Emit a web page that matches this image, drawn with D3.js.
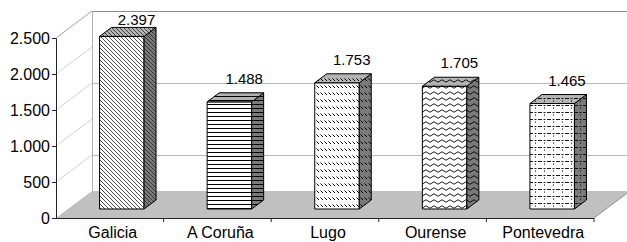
<!DOCTYPE html>
<html><head><meta charset="utf-8">
<script src="https://cdn.jsdelivr.net/npm/d3@7"></script>
<style>
html,body{margin:0;padding:0;background:#fff;}
svg{display:block;font-family:Arial,"Liberation Sans",sans-serif;}
</style></head>
<body>
<svg id="chart" width="627" height="242"></svg>
<script>
const categories = ["Galicia", "A Coruña", "Lugo", "Ourense", "Pontevedra"];
const values = [2397, 1488, 1753, 1705, 1465];
const yTicks = [0, 500, 1000, 1500, 2000, 2500];
const backGridValues = [500, 1500];
const patterns = ["diag", "horiz", "dash", "wave", "dots"];

const svg = d3.select("#chart");
const loc = d3.formatLocale({decimal: ",", thousands: ".", grouping: [3], currency: ["", ""]});
const fmt = loc.format(",d");

const x0 = 56, x1 = 594, yBase = 218, yTop = 38;
const DX = 36, DY = -27;          // depth of the plot box
const bdx = 12, bdy = -9;          // bar front offset & bar depth
const barW = 44.5;

const x = d3.scaleBand().domain(categories).range([x0, x1]).padding(0);
const y = d3.scaleLinear().domain([0, 2500]).range([yBase, yTop]);

// patterns
const defs = svg.append("defs");
function mkPattern(id, w, h, draw) {
  const p = defs.append("pattern").attr("id", id).attr("patternUnits", "userSpaceOnUse")
    .attr("width", w).attr("height", h);
  draw(p);
}
const ink = "#000";
mkPattern("diag", 4, 4, p => p.append("path")
  .attr("d", "M-1,-1L5,5M-1,3L1,5M3,-1L5,1").attr("stroke", "#222").attr("stroke-width", 0.8).attr("fill", "none"));
mkPattern("horiz", 4, 4, p => p.append("path")
  .attr("d", "M0,0.5H4").attr("stroke", ink).attr("stroke-width", 1).attr("fill", "none"));
mkPattern("dash", 4, 7, p => p.append("path")
  .attr("d", "M0.5,1.5L3,4").attr("stroke", ink).attr("stroke-width", 1).attr("fill", "none"));
mkPattern("wave", 8, 6, p => p.append("path")
  .attr("d", "M0,3Q2,0.5 4,3T8,3").attr("stroke", ink).attr("stroke-width", 0.9).attr("fill", "none"));
mkPattern("dots", 9, 7, p => {
  p.append("path").attr("d", "M0,0.5H2M3.5,0.5H5.5M7,0.5H9").attr("stroke", ink).attr("stroke-width", 0.9).attr("fill", "none");
  p.append("path").attr("d", "M4.5,2.5V3.7").attr("stroke", ink).attr("stroke-width", 0.9).attr("fill", "none");
});

const pts = a => a.map(p => p.join(",")).join(" ");

// back wall lines
const wall = svg.append("g");
wall.append("line").attr("x1", x0 + DX).attr("x2", 627).attr("y1", yTop + DY + 0.5).attr("y2", yTop + DY + 0.5)
  .attr("stroke", "#8a8a8a").attr("stroke-width", 1);
wall.append("line").attr("x1", x0 + DX + 0.5).attr("x2", x0 + DX + 0.5).attr("y1", yTop + DY).attr("y2", yBase + DY)
  .attr("stroke", "#b0b0b0");
wall.selectAll(".bg").data(backGridValues).join("line")
  .attr("x1", x0 + DX).attr("x2", 627)
  .attr("y1", d => Math.round(y(d) + DY) + 0.5).attr("y2", d => Math.round(y(d) + DY) + 0.5)
  .attr("stroke", "#b8b8b8");
// left wall diagonals
wall.selectAll(".diag").data(yTicks.filter(d => d > 0)).join("line")
  .attr("x1", x0).attr("y1", d => y(d)).attr("x2", x0 + DX).attr("y2", d => y(d) + DY)
  .attr("stroke", d => d === 2500 ? "#a0a0a0" : "#d0d0d0");

// floor
svg.append("polygon")
  .attr("points", pts([[x0, yBase], [x1, yBase], [x1 + DX, yBase + DY], [x0 + DX, yBase + DY]]))
  .attr("fill", "#c0c0c0").attr("stroke", "none");
svg.append("line").attr("x1", x1).attr("y1", yBase).attr("x2", x1 + DX).attr("y2", yBase + DY)
  .attr("stroke", "#909090");

// bars
const bars = svg.append("g");
categories.forEach((c, i) => {
  const v = values[i];
  const xl = x(c) + (x.bandwidth() - barW) / 2 + bdx;
  const xr = xl + barW;
  const yb = yBase + bdy;
  const yt = y(v) + bdy;
  const faces = [
    {p: [[xl, yt], [xr, yt], [xr, yb], [xl, yb]], fill: "#ffffff"},
    {p: [[xr, yt], [xr + bdx, yt + bdy], [xr + bdx, yb + bdy], [xr, yb]], fill: "#7a7a7a"},
    {p: [[xl, yt], [xl + bdx, yt + bdy], [xr + bdx, yt + bdy], [xr, yt]], fill: "#b4b4b4"}
  ];
  const g = bars.append("g");
  faces.forEach(f => {
    g.append("polygon").attr("points", pts(f.p)).attr("fill", f.fill);
    g.append("polygon").attr("points", pts(f.p)).attr("fill", `url(#${patterns[i]})`)
      .attr("stroke", "#000").attr("stroke-width", 1).attr("stroke-linejoin", "round");
  });
  const ly = Math.max(y(v) + 2 * bdy - 9, 25);
  svg.append("text").attr("x", xl + 37).attr("y", ly).attr("text-anchor", "middle")
    .attr("font-size", 15).attr("fill", "#000").text(fmt(v));
});

// y axis
const yAxis = d3.axisLeft(y).tickValues(yTicks).tickFormat(fmt).tickSize(4).tickSizeOuter(0);
const ga = svg.append("g").attr("transform", `translate(${x0},0)`).call(yAxis);
ga.select(".domain").attr("stroke", "#222");
ga.selectAll(".tick line").attr("stroke", "#222");
ga.selectAll(".tick text").attr("font-size", 16).attr("font-family", "Arial, 'Liberation Sans', sans-serif")
  .attr("fill", "#000").attr("x", -6);

// x axis
const xa = svg.append("g");
xa.append("line").attr("x1", x0).attr("x2", x1).attr("y1", yBase + 0.5).attr("y2", yBase + 0.5).attr("stroke", "#222");
xa.selectAll(".xt").data(categories).join("line")
  .attr("x1", d => x(d) + x.bandwidth()).attr("x2", d => x(d) + x.bandwidth())
  .attr("y1", yBase).attr("y2", yBase + 4).attr("stroke", "#222");
xa.selectAll(".xl").data(categories).join("text")
  .attr("x", d => x(d) + x.bandwidth() / 2 + 3).attr("y", 238)
  .attr("text-anchor", "middle").attr("font-size", 16).attr("fill", "#000").text(d => d);
</script>
</body></html>
